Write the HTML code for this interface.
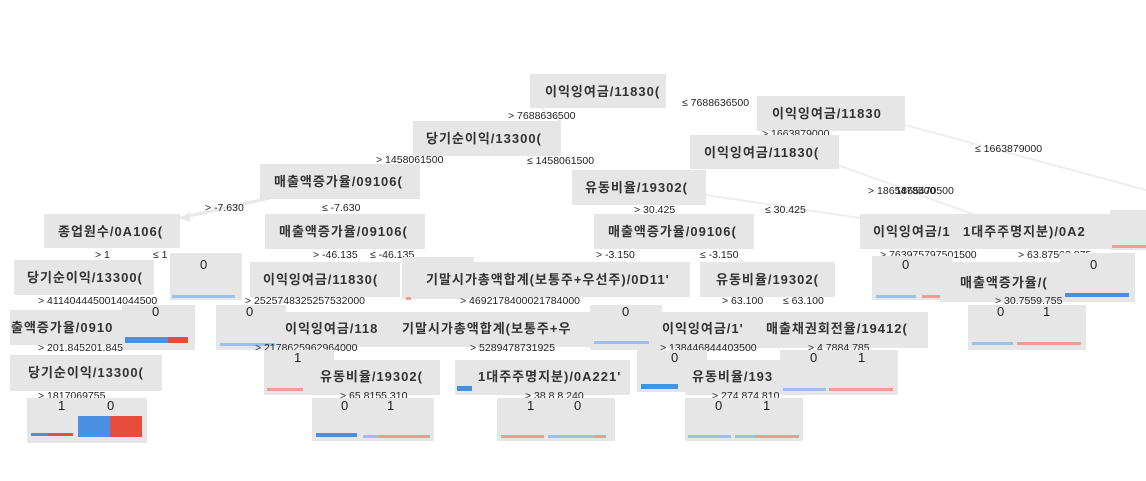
<!DOCTYPE html>
<html><head><meta charset="utf-8">
<style>
body{margin:0;width:1146px;height:481px;background:#fff;overflow:hidden;position:relative;font-family:"Liberation Sans","Noto Sans CJK KR",sans-serif;}
.b{position:absolute;background:#e6e6e6;}
.t{position:absolute;font-size:13px;font-weight:bold;color:#333;white-space:nowrap;letter-spacing:1px;}
.l{position:absolute;font-size:10.5px;color:#222;white-space:nowrap;}
.n{position:absolute;font-size:13px;color:#222;}
.bar{position:absolute;height:3px;}
.bl{background:#4a90e2}.rd{background:#e74c3c}
.lb{background:#9dbfe9}.lr{background:#ef9c94}
svg{position:absolute;left:0;top:0}
</style></head><body>
<svg width="1146" height="481">
<g stroke="#eeeeee" stroke-width="2" fill="none">
<line x1="905" y1="125" x2="1146" y2="190"/>
<line x1="838" y1="165" x2="975" y2="215"/>
<line x1="706" y1="195" x2="860" y2="218"/>
<line x1="530" y1="100" x2="560" y2="121"/>
</g>
<line x1="270" y1="198" x2="180" y2="218" stroke="#e8e8e8" stroke-width="3"/>
<polygon points="180,218 190,212 190,222" fill="#e8e8e8"/>
</svg>

<!-- row 1/2 -->
<div class="b" style="left:530px;top:74px;width:136px;height:34px"></div><div class="t" style="left:545px;top:81px">이익잉여금/11830(</div>
<div class="l" style="left:508px;top:110px">&gt; 7688636500</div>
<div class="l" style="left:682px;top:97px">≤ 7688636500</div>
<div class="b" style="left:757px;top:96px;width:148px;height:35px"></div><div class="t" style="left:772px;top:103px">이익잉여금/11830</div>
<div class="l" style="left:762px;top:128px">&gt; 1663879000</div>
<div class="l" style="left:975px;top:143px">≤ 1663879000</div>
<div class="b" style="left:413px;top:121px;width:148px;height:35px"></div><div class="t" style="left:426px;top:128px">당기순이익/13300(</div>
<div class="b" style="left:690px;top:135px;width:149px;height:34px"></div><div class="t" style="left:704px;top:142px">이익잉여금/11830(</div>
<div class="l" style="left:376px;top:154px">&gt; 1458061500</div>
<div class="l" style="left:527px;top:155px">≤ 1458061500</div>
<div class="b" style="left:572px;top:170px;width:134px;height:35px"></div><div class="t" style="left:585px;top:177px">유동비율/19302(</div>
<div class="b" style="left:260px;top:164px;width:160px;height:35px"></div><div class="t" style="left:274px;top:171px">매출액증가율/09106(</div>
<div class="l" style="left:868px;top:185px">&gt; 1865478500<span style="margin-left:-40px">1865470500</span></div>
<div class="l" style="left:205px;top:202px">&gt; -7.630</div>
<div class="l" style="left:322px;top:202px">≤ -7.630</div>
<div class="l" style="left:634px;top:204px">&gt; 30.425</div>
<div class="l" style="left:765px;top:204px">≤ 30.425</div>

<!-- row 3 -->
<div class="b" style="left:44px;top:214px;width:136px;height:34px"></div><div class="t" style="left:58px;top:221px">종업원수/0A106(</div>
<div class="b" style="left:265px;top:214px;width:160px;height:35px"></div><div class="t" style="left:279px;top:221px">매출액증가율/09106(</div>
<div class="b" style="left:594px;top:214px;width:160px;height:35px"></div><div class="t" style="left:608px;top:221px">매출액증가율/09106(</div>
<div class="b" style="left:860px;top:214px;width:250px;height:35px"></div><div class="t" style="left:873px;top:221px">이익잉여금/1</div><div class="t" style="left:963px;top:221px">1대주주명지분)/0A2</div>
<div class="b" style="left:1110px;top:210px;width:36px;height:40px"></div><div class="bar lr" style="left:1112px;top:245px;width:34px"></div>
<div class="l" style="left:95px;top:249px">&gt; 1</div><div class="l" style="left:153px;top:249px">≤ 1</div>
<div class="l" style="left:313px;top:249px">&gt; -46.135</div><div class="l" style="left:370px;top:249px">≤ -46.135</div>
<div class="l" style="left:596px;top:249px">&gt; -3.150</div><div class="l" style="left:700px;top:249px">≤ -3.150</div>
<div class="l" style="left:880px;top:249px">&gt; 763975797501500</div><div class="l" style="left:1018px;top:249px">&gt; 63.87563.875</div>

<!-- row 4 -->
<div class="b" style="left:14px;top:260px;width:140px;height:35px"></div><div class="t" style="left:27px;top:267px">당기순이익/13300(</div>
<div class="b" style="left:170px;top:253px;width:72px;height:47px"></div><div class="n" style="left:200px;top:257px">0</div><div class="bar lb" style="left:172px;top:295px;width:63px"></div>
<div class="b" style="left:250px;top:262px;width:150px;height:35px"></div><div class="t" style="left:263px;top:269px">이익잉여금/11830(</div>
<div class="b" style="left:402px;top:257px;width:72px;height:42px"></div><div class="bar lr" style="left:406px;top:297px;width:5px"></div>
<div class="b" style="left:420px;top:262px;width:270px;height:35px"></div><div class="t" style="left:426px;top:269px">기말시가총액합계(보통주+우선주)/0D11'</div>
<div class="b" style="left:700px;top:262px;width:135px;height:35px"></div><div class="t" style="left:716px;top:269px">유동비율/19302(</div>
<div class="b" style="left:872px;top:256px;width:80px;height:44px"></div><div class="n" style="left:902px;top:257px">0</div>
<div class="bar lb" style="left:876px;top:295px;width:40px"></div><div class="bar lr" style="left:922px;top:295px;width:24px"></div>
<div class="b" style="left:940px;top:262px;width:195px;height:40px"></div><div class="t" style="left:960px;top:272px">매출액증가율/(</div>
<div class="b" style="left:1060px;top:253px;width:75px;height:47px"></div><div class="n" style="left:1090px;top:257px">0</div>
<div class="bar bl" style="left:1065px;top:293px;width:64px;height:4px"></div>
<div class="l" style="left:38px;top:295px">&gt; 4114044450014044500</div>
<div class="l" style="left:245px;top:295px">&gt; 2525748325257532000</div>
<div class="l" style="left:460px;top:295px">&gt; 4692178400021784000</div>
<div class="l" style="left:722px;top:295px">&gt; 63.100</div><div class="l" style="left:783px;top:295px">≤ 63.100</div>
<div class="l" style="left:995px;top:295px">&gt; 30.7559.755</div>

<!-- row 5 -->
<div class="b" style="left:10px;top:310px;width:112px;height:35px"></div><div class="t" style="left:11px;top:317px">출액증가율/0910</div>
<div class="b" style="left:122px;top:305px;width:73px;height:45px"></div><div class="n" style="left:152px;top:304px">0</div>
<div class="bar bl" style="left:125px;top:337px;width:43px;height:6px"></div><div class="bar rd" style="left:168px;top:337px;width:20px;height:6px"></div>
<div class="b" style="left:216px;top:305px;width:70px;height:45px"></div><div class="n" style="left:246px;top:304px">0</div><div class="bar lb" style="left:220px;top:343px;width:55px"></div>
<div class="b" style="left:280px;top:312px;width:315px;height:35px"></div><div class="t" style="left:285px;top:318px">이익잉여금/118</div><div class="t" style="left:402px;top:318px">기말시가총액합계(보통주+우</div>
<div class="b" style="left:590px;top:305px;width:72px;height:45px"></div><div class="n" style="left:622px;top:304px">0</div><div class="bar lb" style="left:594px;top:341px;width:55px"></div>
<div class="b" style="left:660px;top:312px;width:268px;height:36px"></div><div class="t" style="left:662px;top:318px">이익잉여금/1'</div><div class="t" style="left:766px;top:318px">매출채권회전율/19412(</div>
<div class="b" style="left:968px;top:305px;width:118px;height:45px"></div><div class="n" style="left:997px;top:304px">0</div><div class="n" style="left:1043px;top:304px">1</div>
<div class="bar lb" style="left:972px;top:342px;width:41px"></div><div class="bar lr" style="left:1017px;top:342px;width:64px"></div>
<div class="l" style="left:38px;top:342px">&gt; 201.845201.845</div>
<div class="l" style="left:255px;top:342px">&gt; 2178625962964000</div>
<div class="l" style="left:470px;top:342px">&gt; 5289478731925</div>
<div class="l" style="left:660px;top:342px">&gt; 138446844403500</div>
<div class="l" style="left:808px;top:342px">&gt; 4.7884.785</div>

<!-- row 6 -->
<div class="b" style="left:10px;top:355px;width:152px;height:36px"></div><div class="t" style="left:28px;top:362px">당기순이익/13300(</div>
<div class="b" style="left:264px;top:350px;width:70px;height:45px"></div><div class="n" style="left:294px;top:350px">1</div><div class="bar lr" style="left:267px;top:388px;width:36px"></div>
<div class="b" style="left:312px;top:360px;width:128px;height:35px"></div><div class="t" style="left:320px;top:366px">유동비율/19302(</div>
<div class="b" style="left:455px;top:360px;width:175px;height:35px"></div><div class="t" style="left:478px;top:366px">1대주주명지분)/0A221'</div><div class="bar bl" style="left:457px;top:386px;width:15px;height:5px"></div>
<div class="b" style="left:637px;top:350px;width:70px;height:42px"></div><div class="n" style="left:671px;top:350px">0</div><div class="bar bl" style="left:641px;top:384px;width:37px;height:5px"></div>
<div class="b" style="left:685px;top:360px;width:100px;height:35px"></div><div class="t" style="left:692px;top:366px">유동비율/193</div>
<div class="b" style="left:780px;top:350px;width:118px;height:45px"></div><div class="n" style="left:810px;top:350px">0</div><div class="n" style="left:858px;top:350px">1</div>
<div class="bar lb" style="left:783px;top:388px;width:43px"></div><div class="bar lr" style="left:829px;top:388px;width:64px"></div>
<div class="l" style="left:38px;top:390px">&gt; 1817069755</div>
<div class="l" style="left:340px;top:390px">&gt; 65.8155.310</div>
<div class="l" style="left:525px;top:390px">&gt; 38.8 8.240</div>
<div class="l" style="left:712px;top:390px">&gt; 274 874.810</div>

<!-- row 7 -->
<div class="b" style="left:27px;top:398px;width:120px;height:45px"></div><div class="n" style="left:58px;top:398px">1</div><div class="n" style="left:107px;top:398px">0</div>
<div class="bar bl" style="left:31px;top:433px;width:17px"></div><div class="bar rd" style="left:48px;top:433px;width:25px"></div>
<div class="bar bl" style="left:78px;top:416px;width:32px;height:21px"></div><div class="bar rd" style="left:110px;top:416px;width:32px;height:21px"></div>
<div class="b" style="left:312px;top:398px;width:122px;height:43px"></div><div class="n" style="left:341px;top:398px">0</div><div class="n" style="left:387px;top:398px">1</div>
<div class="bar bl" style="left:316px;top:433px;width:41px;height:4px"></div><div class="bar lb" style="left:363px;top:435px;width:14px"></div><div class="bar lr" style="left:377px;top:435px;width:53px"></div>
<div class="b" style="left:497px;top:398px;width:118px;height:43px"></div><div class="n" style="left:527px;top:398px">1</div><div class="n" style="left:574px;top:398px">0</div>
<div class="bar lr" style="left:501px;top:435px;width:43px"></div><div class="bar lb" style="left:548px;top:435px;width:45px"></div><div class="bar lr" style="left:593px;top:435px;width:13px"></div>
<div class="b" style="left:685px;top:398px;width:118px;height:43px"></div><div class="n" style="left:715px;top:398px">0</div><div class="n" style="left:763px;top:398px">1</div>
<div class="bar lb" style="left:688px;top:435px;width:43px"></div><div class="bar lb" style="left:735px;top:435px;width:20px"></div><div class="bar lr" style="left:755px;top:435px;width:44px"></div>
</body></html>
